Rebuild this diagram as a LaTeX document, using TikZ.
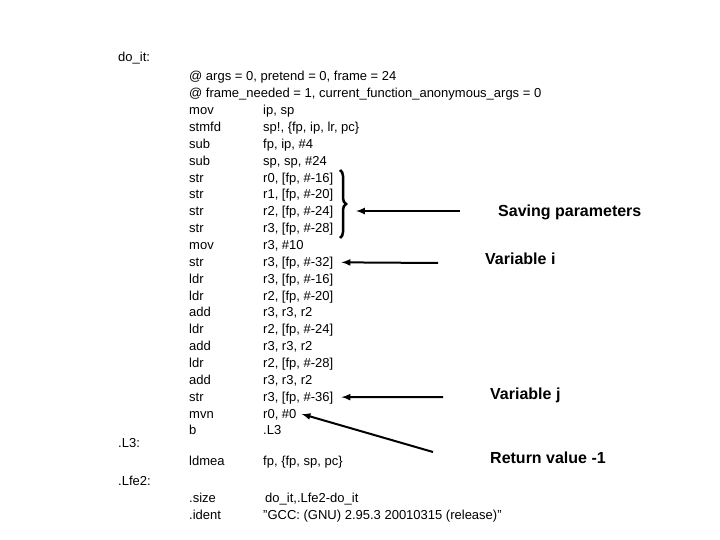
\documentclass[tikz,border=0pt]{standalone}
\usepackage{fontspec}
\setmainfont{Liberation Sans}
\usetikzlibrary{decorations.pathreplacing}

\begin{document}
\begin{tikzpicture}[x=1pt, y=-1pt, code/.style = {anchor=base west, inner sep=0pt,
	font=\fontsize{13}{15}\selectfont}, label/.style = {anchor=base west, inner sep=0pt,
	font=\fontsize{16}{18}\bfseries\selectfont}, edge/.style = {line width=2pt, -latex}]

	\useasboundingbox (0,0) rectangle (720,540);

	% Labels
	\node (doit) [code] at (118, 62) {do\_it:};
	\node (lthree) [code] at (118, 447) {.L3:};
	\node (lfe) [code] at (118, 485) {.Lfe2:};

	\node (c1) [code] at (189, 81) {@ args = 0, pretend = 0, frame = 24};
	\node (c2) [code] at (189, 98) {@ frame\_needed = 1, current\_function\_anonymous\_args = 0};

	% Instructions
	\foreach \m/\o [count=\i from 3] in {mov/{ip, sp}, stmfd/{sp!, \{fp, ip, lr, pc\}},
		sub/{fp, ip, \#4}, sub/{sp, sp, \#24}, str/{r0, [fp, \#-16]}, str/{r1, [fp, \#-20]},
		str/{r2, [fp, \#-24]}, str/{r3, [fp, \#-28]}, mov/{r3, \#10}, str/{r3, [fp, \#-32]},
		ldr/{r3, [fp, \#-16]}, ldr/{r2, [fp, \#-20]}, add/{r3, r3, r2}, ldr/{r2, [fp, \#-24]},
		add/{r3, r3, r2}, ldr/{r2, [fp, \#-28]}, add/{r3, r3, r2}, str/{r3, [fp, \#-36]},
		mvn/{r0, \#0}, b/{.L3}}
	{
		\node (m\i) [code] at (189, {81 + (\i-1)*16.85}) {\m};
		\node (c\i) [code] at (263, {81 + (\i-1)*16.85}) {\o};
	}

	\node (ldmea) [code] at (189, 465) {ldmea};
	\node (cret) [code] at (263, 465) {fp, \{fp, sp, pc\}};
	\node (size) [code] at (189, 502) {.size};
	\node (csize) [code] at (265, 502) {do\_it,.Lfe2-do\_it};
	\node (ident) [code] at (189, 519) {.ident};
	\node (cident) [code] at (263, 519) {"GCC: (GNU) 2.95.3 20010315 (release)"};

	% Descriptions
	\node (saving) [label] at (498, 217) {Saving parameters};
	\node (vari) [label] at (485, 264) {Variable i};
	\node (varj) [label] at (490, 399) {Variable j};
	\node (retval) [label] at (490, 463) {Return value -1};

	\draw [line width=2.5pt, decorate, decoration={brace, amplitude=6pt}]
		(340, 170) coordinate (btop) -- (340, 238) coordinate (bbot);
	\coordinate (bmid) at (356, 211);

	\draw[edge] (460, 211) -- (bmid);
	\draw[edge] (438, 263) -- ([xshift=8pt, yshift=4pt]c12.base east);
	\draw[edge] (443, 397) -- ([xshift=8pt, yshift=4pt]c20.base east);
	\draw[edge] (433, 452) -- ([xshift=5pt, yshift=4pt]c21.base east);
\end{tikzpicture}
\end{document}
